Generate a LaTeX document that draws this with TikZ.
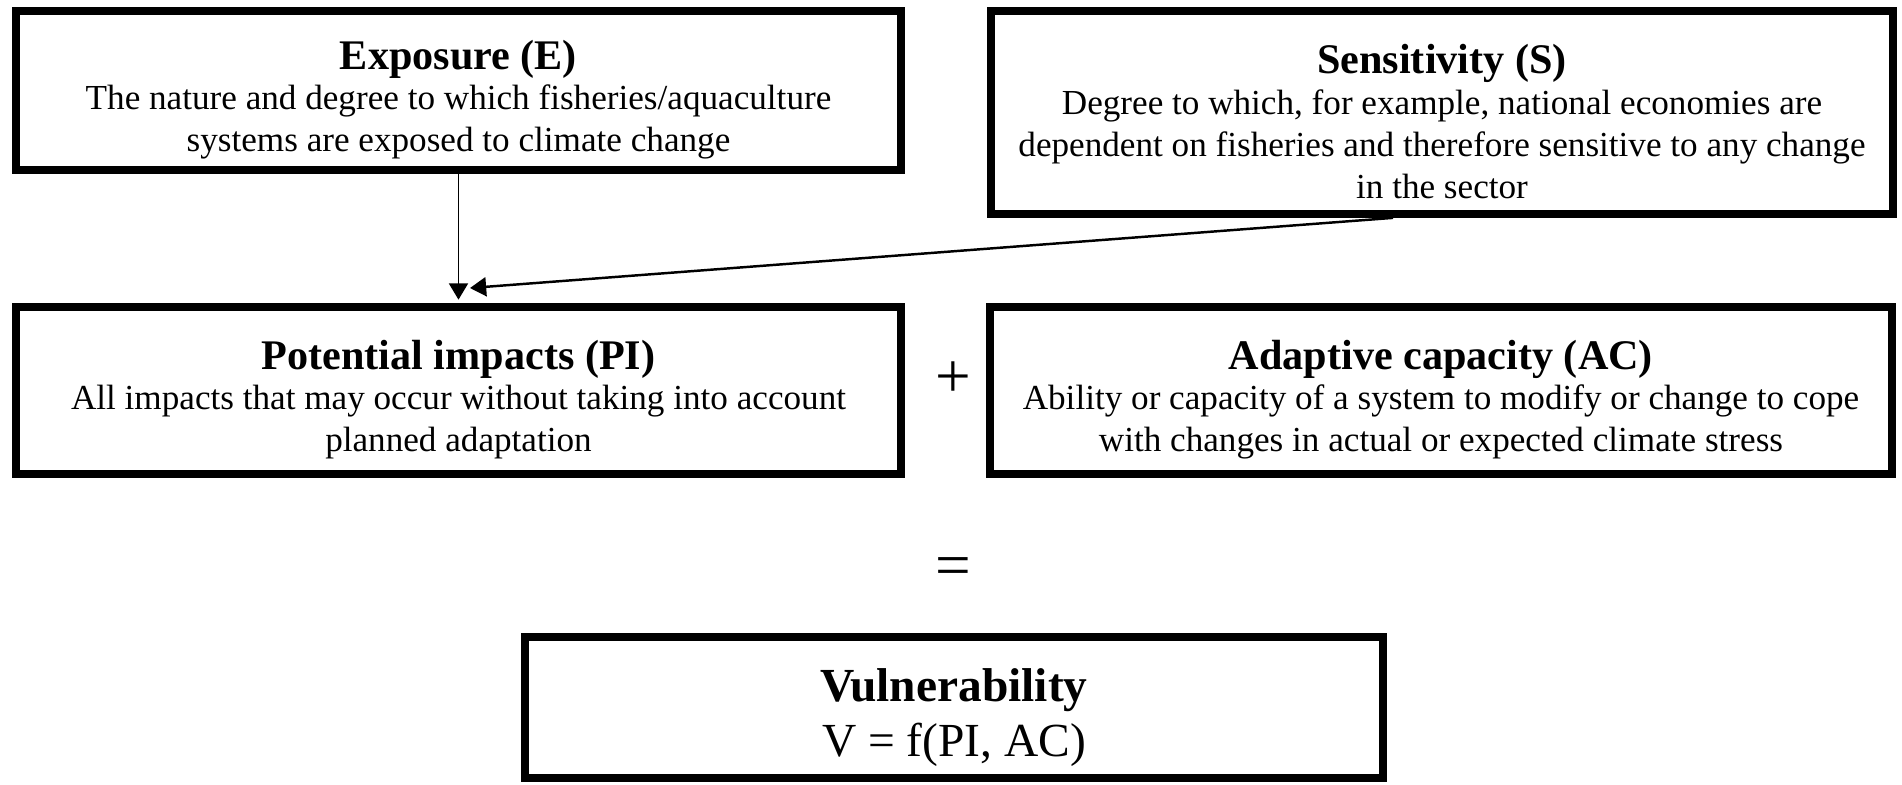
\documentclass[tikz,border=0pt]{standalone}
\usepackage{fontspec}
\setmainfont{Liberation Serif}
\usetikzlibrary{arrows.meta,positioning,calc}

\newcommand{\boxhead}[1]{{\fontsize{12}{12}\selectfont\bfseries\rule{0pt}{13.5pt}#1}}

\begin{document}
\begin{tikzpicture}[
  box/.style={draw,line width=2.2pt,align=center,inner sep=0pt,
    font=\fontsize{10}{12}\selectfont},
  conn/.style={line width=0.5pt,-{Triangle[length=4.6pt,width=5.4pt]}},
  sign/.style={font=\fontsize{18}{18}\selectfont,inner sep=0pt}
]
\useasboundingbox (0,0) rectangle (19.02,-7.84);

% top row
\node[box,minimum width=8.85cm,minimum height=1.59cm] (expo) at (4.585,-0.905)
  {\boxhead{Exposure (E)}\\[-0.5pt]
   The nature and degree to which fisheries/aquaculture\\
   systems are exposed to climate change};
\node[box,minimum width=9.02cm,minimum height=2.03cm] (sens) at (14.42,-1.125)
  {\boxhead{Sensitivity (S)}\\[-0.5pt]
   Degree to which, for example, national economies are\\
   dependent on fisheries and therefore sensitive to any change\\
   in the sector};

% middle row
\node[box,minimum width=8.85cm,minimum height=1.67cm] (pimp) at (4.585,-3.905)
  {\boxhead{Potential impacts (PI)}\\[-0.5pt]
   All impacts that may occur without taking into account\\
   planned adaptation};
\node[box,minimum width=9.02cm,minimum height=1.67cm] (adap) at (14.41,-3.905)
  {\boxhead{Adaptive capacity (AC)}\\[-0.5pt]
   Ability or capacity of a system to modify or change to cope\\
   with changes in actual or expected climate stress};
\node[sign] (plus) at (9.53,-3.80) {+};
\node[sign] (equal) at (9.53,-5.72) {=};

% result
\node[box,minimum width=8.58cm,minimum height=1.41cm,
  font=\fontsize{13.5}{15.5}\selectfont] (vuln) at (9.54,-7.075)
  {\rule{0pt}{15pt}\textbf{Vulnerability}\\ V = f(PI, AC)};

\coordinate (sensTip) at (4.70,-2.88);
\draw[conn,shorten >=1pt] (expo.south) -- (pimp.north);
\draw[conn,line width=0.7pt] ($(sens.south)+(-0.49,0)$) -- (sensTip);
\end{tikzpicture}
\end{document}
